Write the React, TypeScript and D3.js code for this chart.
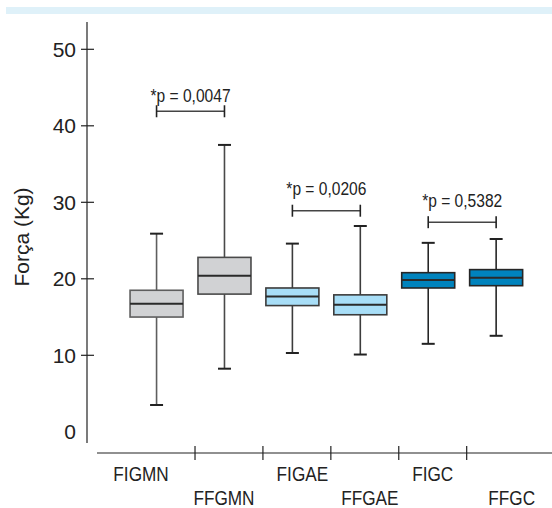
import React, { useRef, useEffect } from "react";
import * as d3 from "d3";

// grupos e estatísticas (Kg)
const groups = ["FIGMN", "FFGMN", "FIGAE", "FFGAE", "FIGC", "FFGC"];
const whiskerLow = [3.5, 8.25, 10.3, 10.1, 11.5, 12.55];
const q1 = [15.0, 18.0, 16.5, 15.3, 18.8, 19.1];
const medians = [16.75, 20.4, 17.7, 16.6, 19.85, 20.15];
const q3 = [18.5, 22.8, 18.8, 17.9, 20.8, 21.2];
const whiskerHigh = [25.9, 37.5, 24.6, 26.9, 24.7, 25.2];

const yTicks = [0, 10, 20, 30, 40, 50];

// comparações: par de grupos, altura do colchete, altura do texto
const pLabels = ["*p = 0,0047", "*p = 0,0206", "*p = 0,5382"];
const pPairs = [[0, 1], [2, 3], [4, 5]];
const pBracket = [41.9, 28.9, 27.4];
const pText = [43.1, 30.9, 29.4];

const fills = ["#d1d2d4", "#d1d2d4", "#a8def7", "#a8def7", "#0083bd", "#0083bd"];
const strokes = ["#5e5e5e", "#4a4a4a", "#3c3c3c", "#3c3c3c", "#262626", "#262626"];
const labelNudge = [-20, -5, 5.5, 5, 0, 11];

export default function App() {
  const svgRef = useRef(null);

  useEffect(() => {
    const width = 552;
    const height = 508;
    const svg = d3.select(svgRef.current);
    svg.selectAll("*").remove();
    svg.attr("width", width).attr("height", height);

    const font = "'Liberation Sans', Arial, Helvetica, sans-serif";
    const ink = "#222";

    // faixa azul no topo
    svg.append("rect")
      .attr("x", 6).attr("y", 7)
      .attr("width", width - 6).attr("height", 7)
      .attr("fill", "#dff1f9");

    const y = d3.scaleLinear().domain([0, 50]).range([431.8, 49.3]);
    const x = d3.scaleBand().domain(groups).range([127.1, 534.6]).paddingInner(0);
    const boxW = 53;
    const cx = i => x(groups[i]) + x.bandwidth() / 2 - 4.5;

    // eixo y
    const axisX = 87;
    svg.append("line")
      .attr("x1", axisX).attr("x2", axisX)
      .attr("y1", 22).attr("y2", 443)
      .attr("stroke", ink).attr("stroke-width", 1.2);

    const yt = svg.append("g");
    yt.selectAll("line")
      .data(yTicks.filter(d => d > 0))
      .enter()
      .append("line")
      .attr("x1", axisX - 6).attr("x2", axisX + 7)
      .attr("y1", d => y(d)).attr("y2", d => y(d))
      .attr("stroke", ink).attr("stroke-width", 1.2);
    yt.selectAll("text")
      .data(yTicks)
      .enter()
      .append("text")
      .attr("x", 76)
      .attr("y", d => y(d))
      .attr("dy", "0.36em")
      .attr("text-anchor", "end")
      .attr("font-family", font)
      .attr("font-size", 21)
      .attr("fill", ink)
      .text(d => d);

    svg.append("text")
      .attr("transform", `translate(29,237) rotate(-90)`)
      .attr("text-anchor", "middle")
      .attr("font-family", font)
      .attr("font-size", 21)
      .attr("fill", ink)
      .text("Força (Kg)");

    // eixo x
    const axisY = 453;
    svg.append("line")
      .attr("x1", 97).attr("x2", width)
      .attr("y1", axisY).attr("y2", axisY)
      .attr("stroke", ink).attr("stroke-width", 1.2);
    svg.append("g")
      .selectAll("line")
      .data(groups.slice(1))
      .enter()
      .append("line")
      .attr("x1", d => x(d)).attr("x2", d => x(d))
      .attr("y1", axisY - 7).attr("y2", axisY + 7)
      .attr("stroke", ink).attr("stroke-width", 1.2);

    svg.append("g")
      .selectAll("text")
      .data(groups)
      .enter()
      .append("text")
      .attr("transform", (d, i) =>
        `translate(${x(d) + x.bandwidth() / 2 + labelNudge[i]},${i % 2 === 0 ? 481 : 505}) scale(0.86,1)`)
      .attr("text-anchor", "middle")
      .attr("font-family", font)
      .attr("font-size", 20)
      .attr("fill", ink)
      .text(d => d);

    // caixas
    const boxes = svg.append("g");
    groups.forEach((g, i) => {
      const c = cx(i);
      const b = boxes.append("g");
      b.append("line")
        .attr("x1", c).attr("x2", c)
        .attr("y1", y(whiskerHigh[i])).attr("y2", y(whiskerLow[i]))
        .attr("stroke", strokes[i]).attr("stroke-width", 1.6);
      [whiskerHigh[i], whiskerLow[i]].forEach(v => {
        b.append("line")
          .attr("x1", c - 6.5).attr("x2", c + 6.5)
          .attr("y1", y(v)).attr("y2", y(v))
          .attr("stroke", "#222").attr("stroke-width", 2);
      });
      b.append("rect")
        .attr("x", c - boxW / 2)
        .attr("y", y(q3[i]))
        .attr("width", boxW)
        .attr("height", y(q1[i]) - y(q3[i]))
        .attr("fill", fills[i])
        .attr("stroke", strokes[i])
        .attr("stroke-width", 1.6);
      b.append("line")
        .attr("x1", c - boxW / 2).attr("x2", c + boxW / 2)
        .attr("y1", y(medians[i])).attr("y2", y(medians[i]))
        .attr("stroke", "#2a2a2a").attr("stroke-width", 2);
    });

    // colchetes com valores de p
    const ann = svg.append("g");
    pPairs.forEach(([a, b], k) => {
      const x1 = cx(a), x2 = cx(b), yy = y(pBracket[k]);
      ann.append("line")
        .attr("x1", x1).attr("x2", x2).attr("y1", yy).attr("y2", yy)
        .attr("stroke", "#444").attr("stroke-width", 1.6);
      [x1, x2].forEach(xx => {
        ann.append("line")
          .attr("x1", xx).attr("x2", xx).attr("y1", yy - 6).attr("y2", yy + 6)
          .attr("stroke", "#222").attr("stroke-width", 1.6);
      });
      ann.append("text")
        .attr("transform", `translate(${(x1 + x2) / 2},${y(pText[k])}) scale(0.82,1)`)
        .attr("text-anchor", "middle")
        .attr("font-family", font)
        .attr("font-size", 19)
        .attr("fill", ink)
        .text(pLabels[k]);
    });
  }, []);

  return (
    <div style={{ position: "absolute", left: 0, top: 0 }}>
      <svg ref={svgRef}></svg>
    </div>
  );
}
